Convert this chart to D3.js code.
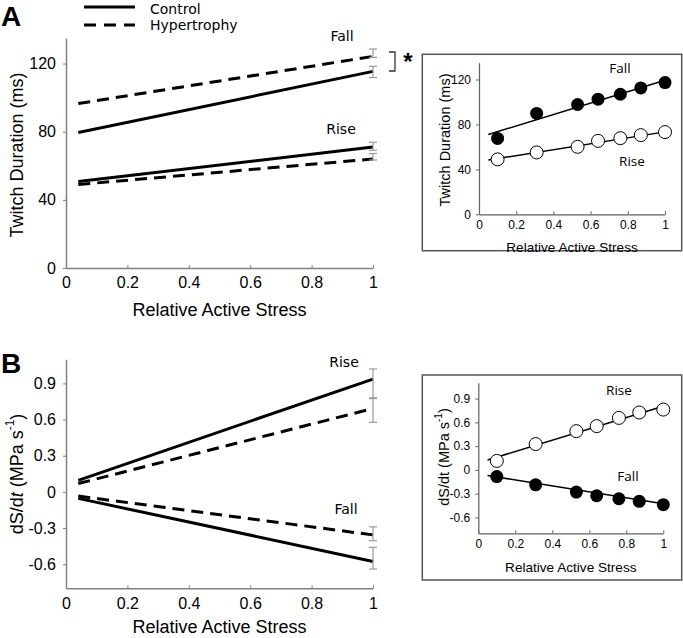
<!DOCTYPE html>
<html><head><meta charset="utf-8">
<script src="https://cdn.jsdelivr.net/npm/d3@7"></script>
<style>body{margin:0;background:#fff}svg{display:block}</style>
</head><body>
<script>
// ---------- DATA ----------
const xTicks = [0, 0.2, 0.4, 0.6, 0.8, 1];
const durTicks = [0, 40, 80, 120];
const rateTicks = [-0.6, -0.3, 0, 0.3, 0.6, 0.9];
const fitX = [0.04, 1];

// Panel A main: twitch duration regression lines (ms)
const aControlFall = [79.5, 115.4];
const aHyperFall = [96.5, 124.2];
const aControlRise = [50.8, 71.0];
const aHyperRise = [49.0, 64.0];
// error bars at x=1 [low, high]
const aErr = [[111.8, 118.4], [123.6, 128.5], [69.1, 73.8], [63.4, 67.2]];

// Panel B main: dS/dt regression lines (MPa/s)
const bControlRise = [0.096, 0.936];
const bHyperRise = [0.069, 0.692];
const bControlFall = [-0.054, -0.577];
const bHyperFall = [-0.035, -0.357];
const bErr = [[0.78, 1.02], [0.577, 0.775], [-0.64, -0.46], [-0.405, -0.29]];

// Insets: sample data
const insetX = [0.1, 0.31, 0.53, 0.64, 0.76, 0.87, 1.0];
const insetDurFall = [67.6, 89.8, 97.8, 102.5, 106.9, 112.5, 117.3];
const insetDurRise = [48.9, 55.1, 60.1, 65.4, 67.8, 70.5, 73.2];
const insetDurFallFit = [71.1, 119.4];
const insetDurRiseFit = [48.3, 73.4];
const insetRateRise = [0.113, 0.326, 0.489, 0.552, 0.656, 0.724, 0.761];
const insetRateFall = [-0.084, -0.188, -0.28, -0.326, -0.364, -0.397, -0.439];
const insetRateRiseFit = [0.125, 0.803];
const insetRateFallFit = [-0.071, -0.427];
const insetFitX = [0.05, 1];

// ---------- DRAW ----------
const W = 683, H = 638;
const svg = d3.select("body").append("svg").attr("width", W).attr("height", H);
const ARIAL = "'Liberation Sans', Arial, sans-serif";
const VERD = "'DejaVu Sans', Verdana, sans-serif";
const fmt = d => d === 0 ? "0" : (d === 1 ? "1" : String(d));
const DASH = "12,7";

function axes(g, x, y, yTicks, o) {
  const xa = g.append("g").attr("transform", `translate(0,${y.range()[0]})`)
    .call(d3.axisBottom(x).tickValues(xTicks).tickFormat(fmt).tickSizeInner(-o.tick).tickSizeOuter(0).tickPadding(o.xpad));
  const ya = g.append("g").attr("transform", `translate(${x.range()[0]},0)`)
    .call(d3.axisLeft(y).tickValues(yTicks).tickFormat(d => String(d)).tickSizeInner(o.tick).tickSizeOuter(0).tickPadding(o.ypad));
  [xa, ya].forEach(a => {
    a.select(".domain").attr("stroke", o.axisColor).attr("stroke-width", o.axisW);
    a.selectAll(".tick line").attr("stroke", o.axisColor).attr("stroke-width", 1);
    a.selectAll("text").attr("fill", "#000").attr("font-family", ARIAL).attr("font-size", o.tickFs);
  });
}

function fitLine(g, x, y, xs, ys, opts) {
  const pts = xs.map((v, i) => [v, ys[i]]);
  g.append("path").attr("d", d3.line().x(d => x(d[0])).y(d => y(d[1]))(pts))
    .attr("fill", "none").attr("stroke", "#000").attr("stroke-width", opts.w)
    .attr("stroke-dasharray", opts.dash || null);
}

function errBar(g, x, y, lo, hi) {
  const cx = x(1), c = 4;
  g.append("line").attr("x1", cx).attr("x2", cx).attr("y1", y(lo)).attr("y2", y(hi));
  g.append("line").attr("x1", cx - c).attr("x2", cx + c).attr("y1", y(lo)).attr("y2", y(lo));
  g.append("line").attr("x1", cx - c).attr("x2", cx + c).attr("y1", y(hi)).attr("y2", y(hi));
}

const mainOpts = {tick: 3, xpad: 9, ypad: 7, axisColor: "#808080", axisW: 1.5, tickFs: 16};
const insetOpts = {tick: 3, xpad: 6, ypad: 5, axisColor: "#606060", axisW: 1.2, tickFs: 12};

// ===== Panel A main =====
const xA = d3.scaleLinear().domain([0, 1]).range([66, 373]);
const yA = d3.scaleLinear().domain([0, 135]).range([268, 38]);
const gA = svg.append("g");
axes(gA, xA, yA, durTicks, mainOpts);
fitLine(gA, xA, yA, fitX, aControlFall, {w: 3});
fitLine(gA, xA, yA, fitX, aHyperFall, {w: 3, dash: DASH});
fitLine(gA, xA, yA, fitX, aControlRise, {w: 3});
fitLine(gA, xA, yA, fitX, aHyperRise, {w: 3, dash: DASH});
const eA = gA.append("g").attr("stroke", "#999").attr("stroke-width", 1.2);
aErr.forEach(e => errBar(eA, xA, yA, e[0], e[1]));
gA.append("text").attr("x", xA(0.5)).attr("y", 310).attr("text-anchor", "middle").attr("dominant-baseline", "central")
  .attr("font-family", ARIAL).attr("font-size", 18).text("Relative Active Stress");
gA.append("text").attr("transform", `translate(17,${(yA(0) + yA(135)) / 2 + 2}) rotate(-90)`).attr("text-anchor", "middle")
  .attr("dominant-baseline", "central").attr("font-family", ARIAL).attr("font-size", 18).text("Twitch Duration (ms)");
gA.append("text").attr("x", 342).attr("y", 36).attr("text-anchor", "middle").attr("dominant-baseline", "central")
  .attr("font-family", VERD).attr("font-size", 14).text("Fall");
gA.append("text").attr("x", 341).attr("y", 129).attr("text-anchor", "middle").attr("dominant-baseline", "central")
  .attr("font-family", VERD).attr("font-size", 14).text("Rise");
// significance bracket
gA.append("path").attr("d", `M389,${52}H395V${71}H389`).attr("fill", "none").attr("stroke", "#333").attr("stroke-width", 1.3);
gA.append("text").attr("x", 408).attr("y", 70).attr("text-anchor", "middle")
  .attr("font-family", ARIAL).attr("font-weight", "bold").attr("font-size", 24).text("*");
// panel letter
svg.append("text").attr("x", 1).attr("y", 26).attr("font-family", ARIAL).attr("font-weight", "bold").attr("font-size", 28).text("A");
// legend
svg.append("line").attr("x1", 84).attr("x2", 135).attr("y1", 7).attr("y2", 7).attr("stroke", "#000").attr("stroke-width", 3);
svg.append("line").attr("x1", 84).attr("x2", 135).attr("y1", 25).attr("y2", 25).attr("stroke", "#000").attr("stroke-width", 3).attr("stroke-dasharray", "12,8");
svg.append("text").attr("x", 150).attr("y", 9).attr("dominant-baseline", "central").attr("font-family", VERD).attr("font-size", 14).text("Control");
svg.append("text").attr("x", 150).attr("y", 25).attr("dominant-baseline", "central").attr("font-family", VERD).attr("font-size", 14).text("Hypertrophy");

// ===== Panel B main =====
const xB = d3.scaleLinear().domain([0, 1]).range([66, 373]);
const yB = d3.scaleLinear().domain([-0.8, 1.1]).range([588.3, 359.3]);
const gB = svg.append("g");
axes(gB, xB, yB, rateTicks, mainOpts);
fitLine(gB, xB, yB, fitX, bControlRise, {w: 3});
fitLine(gB, xB, yB, fitX, bHyperRise, {w: 3, dash: DASH});
fitLine(gB, xB, yB, fitX, bControlFall, {w: 3});
fitLine(gB, xB, yB, fitX, bHyperFall, {w: 3, dash: DASH});
const eB = gB.append("g").attr("stroke", "#999").attr("stroke-width", 1.2);
bErr.forEach(e => errBar(eB, xB, yB, e[0], e[1]));
gB.append("text").attr("x", xB(0.5)).attr("y", 627).attr("text-anchor", "middle").attr("dominant-baseline", "central")
  .attr("font-family", ARIAL).attr("font-size", 18).text("Relative Active Stress");
const yt = gB.append("text").attr("transform", `translate(17,474) rotate(-90)`).attr("text-anchor", "middle")
  .attr("dominant-baseline", "central").attr("font-family", ARIAL).attr("font-size", 18);
yt.append("tspan").text("dS/d");
yt.append("tspan").attr("font-style", "italic").text("t");
yt.append("tspan").text(" (MPa s");
yt.append("tspan").attr("font-size", 12).attr("dy", -7).text("-1");
yt.append("tspan").attr("dy", 7).text(")");
gB.append("text").attr("x", 344).attr("y", 362).attr("text-anchor", "middle").attr("dominant-baseline", "central")
  .attr("font-family", VERD).attr("font-size", 14).text("Rise");
gB.append("text").attr("x", 346).attr("y", 509).attr("text-anchor", "middle").attr("dominant-baseline", "central")
  .attr("font-family", VERD).attr("font-size", 14).text("Fall");
svg.append("text").attr("x", 1).attr("y", 373).attr("font-family", ARIAL).attr("font-weight", "bold").attr("font-size", 28).text("B");

// ===== Insets =====
function inset(box, x, y, yTicks, fitFall, fitRise, fallPts, risePts, yTitle, labels, xTitleY) {
  svg.append("rect").attr("x", box[0]).attr("y", box[1]).attr("width", box[2] - box[0]).attr("height", box[3] - box[1])
    .attr("fill", "#fff").attr("stroke", "#555").attr("stroke-width", 1.5);
  const g = svg.append("g");
  axes(g, x, y, yTicks, insetOpts);
  fitLine(g, x, y, insetFitX, fitFall, {w: 1.5});
  fitLine(g, x, y, insetFitX, fitRise, {w: 1.5});
  g.append("g").selectAll("circle").data(insetX.map((v, i) => [v, risePts[i]])).join("circle")
    .attr("cx", d => x(d[0])).attr("cy", d => y(d[1])).attr("r", 6.5)
    .attr("fill", "#fff").attr("stroke", "#000").attr("stroke-width", 1);
  g.append("g").selectAll("circle").data(insetX.map((v, i) => [v, fallPts[i]])).join("circle")
    .attr("cx", d => x(d[0])).attr("cy", d => y(d[1])).attr("r", 6.5).attr("fill", "#000");
  g.append("text").attr("x", (x(0) + x(1)) / 2).attr("y", xTitleY).attr("text-anchor", "middle").attr("dominant-baseline", "central")
    .attr("font-family", ARIAL).attr("font-size", 13.6).text("Relative Active Stress");
  yTitle(g);
  labels.forEach(l => g.append("text").attr("x", l[1]).attr("y", l[2]).attr("text-anchor", "middle").attr("dominant-baseline", "central")
    .attr("font-family", "'Open Sans', sans-serif").attr("font-size", 13.5).text(l[0]));
}

const xIA = d3.scaleLinear().domain([0, 1]).range([479, 665]);
const yIA = d3.scaleLinear().domain([0, 135]).range([214.3, 62.7]);
inset([422.3, 54.3, 681.7, 250.7], xIA, yIA, durTicks, insetDurFallFit, insetDurRiseFit, insetDurFall, insetDurRise,
  g => g.append("text").attr("transform", "translate(445,140) rotate(-90)").attr("text-anchor", "middle").attr("dominant-baseline", "central")
    .attr("font-family", ARIAL).attr("font-size", 14.5).text("Twitch Duration (ms)"),
  [["Fall", 620, 68], ["Rise", 632, 161]], 247.5);

const xIB = d3.scaleLinear().domain([0, 1]).range([478.3, 663.3]);
const yIB = d3.scaleLinear().domain([-0.8, 1.1]).range([533.3, 382.7]);
inset([422.3, 375, 681.7, 580], xIB, yIB, rateTicks, insetRateFallFit, insetRateRiseFit, insetRateFall, insetRateRise,
  g => {
    const t = g.append("text").attr("transform", "translate(444,457) rotate(-90)").attr("text-anchor", "middle").attr("dominant-baseline", "central")
      .attr("font-family", ARIAL).attr("font-size", 14.5);
    t.append("tspan").text("dS/dt (MPa s");
    t.append("tspan").attr("font-size", 10).attr("dy", -6).text("-1");
    t.append("tspan").attr("dy", 6).text(")");
  },
  [["Rise", 619, 390], ["Fall", 628, 476]], 567.5);
</script>
</body></html>
